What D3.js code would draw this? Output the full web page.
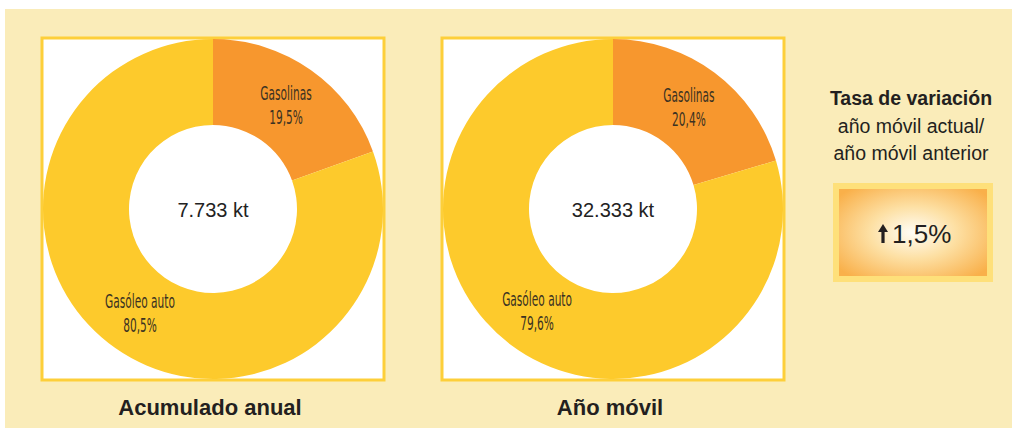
<!DOCTYPE html>
<html>
<head>
<meta charset="utf-8">
<script src="https://cdn.jsdelivr.net/npm/d3@7"></script>
<style>
  html, body { margin: 0; padding: 0; background: #fff; }
  svg { display: block; }
</style>
</head>
<body>
<div id="chart"></div>
<script>
// data
const categories = ["Gasolinas", "Gasóleo auto"];
const acumuladoValues = [19.5, 80.5];
const movilValues = [20.4, 79.6];
const panelTitles = ["Acumulado anual", "Año móvil"];
const totals = ["7.733 kt", "32.333 kt"];
const variationTitle = ["Tasa de variación", "año móvil actual/", "año móvil anterior"];
const variationValue = "1,5%";

const W = 1012, H = 428;
const colors = d3.scaleOrdinal().domain(categories).range(["#f7972e", "#fdca2c"]);
const fmt = v => d3.format(".1f")(v).replace(".", ",") + "%";

const svg = d3.select("#chart").append("svg")
    .attr("width", W).attr("height", H);

// beige panel
svg.append("rect")
    .attr("x", 5).attr("y", 9)
    .attr("width", W - 5).attr("height", H - 9)
    .attr("fill", "#faecb9");

const defs = svg.append("defs");
const grad = defs.append("radialGradient")
    .attr("id", "varGrad")
    .attr("cx", "50%").attr("cy", "50%").attr("r", "62%");
grad.append("stop").attr("offset", "0%").attr("stop-color", "#fffdf6");
grad.append("stop").attr("offset", "45%").attr("stop-color", "#fde0a4");
grad.append("stop").attr("offset", "100%").attr("stop-color", "#f9b04a");

const panels = [
    { cx: 213, cy: 209, values: acumuladoValues, title: panelTitles[0], total: totals[0] },
    { cx: 613, cy: 209, values: movilValues, title: panelTitles[1], total: totals[1] }
];

const outerR = 170, innerR = 84;
const pie = d3.pie().sort(null).value(d => d.value);
const arc = d3.arc().innerRadius(innerR).outerRadius(outerR);
const labelFont = "'DejaVu Sans Condensed', 'DejaVu Sans', sans-serif";

panels.forEach(p => {
    const g = svg.append("g");
    // white box with yellow border
    g.append("rect")
        .attr("x", p.cx - outerR - 1).attr("y", p.cy - outerR - 1)
        .attr("width", 2 * outerR + 2).attr("height", 2 * outerR + 2)
        .attr("fill", "#fff")
        .attr("stroke", "#fdcf3a").attr("stroke-width", 3);

    const data = categories.map((c, i) => ({ name: c, value: p.values[i] }));
    const arcs = pie(data);
    const dg = g.append("g").attr("transform", `translate(${p.cx},${p.cy})`);

    dg.selectAll("path").data(arcs).join("path")
        .attr("d", arc)
        .attr("fill", d => colors(d.data.name));

    const lab = dg.selectAll("g.lab").data(arcs).join("g")
        .attr("class", "lab")
        .attr("transform", d => { const [x, y] = arc.centroid(d); return `translate(${x},${y})`; });
    lab.append("text")
        .attr("y", -5)
        .attr("text-anchor", "middle")
        .attr("transform", "scale(0.62,1)")
        .style("font-family", labelFont)
        .style("font-size", "19px")
        .attr("fill", "#3b3222")
        .text(d => d.data.name);
    lab.append("text")
        .attr("y", 19)
        .attr("text-anchor", "middle")
        .attr("transform", "scale(0.62,1)")
        .style("font-family", labelFont)
        .style("font-size", "19px")
        .attr("fill", "#3b3222")
        .text(d => fmt(d.data.value));

    dg.append("text")
        .attr("y", 8)
        .attr("text-anchor", "middle")
        .style("font-family", "'Liberation Sans', Arial, sans-serif")
        .style("font-size", "20px")
        .attr("fill", "#222")
        .text(p.total);

    g.append("text")
        .attr("x", p.cx - 3).attr("y", 415)
        .attr("text-anchor", "middle")
        .style("font-family", "'Liberation Sans', Arial, sans-serif")
        .style("font-weight", "bold")
        .style("font-size", "22px")
        .attr("fill", "#231f20")
        .text(p.title);
});

// variation block
const vx = 911;
svg.append("g").selectAll("text").data(variationTitle).join("text")
    .attr("x", vx)
    .attr("y", (d, i) => 105 + i * 27.5)
    .attr("text-anchor", "middle")
    .style("font-family", "'Liberation Sans', Arial, sans-serif")
    .style("font-weight", (d, i) => i === 0 ? "bold" : "normal")
    .style("font-size", "19.5px")
    .attr("fill", "#231f20")
    .text(d => d);

svg.append("rect")
    .attr("x", 836).attr("y", 186)
    .attr("width", 154).attr("height", 93)
    .attr("fill", "url(#varGrad)")
    .attr("stroke", "#fee07a").attr("stroke-width", 6);

const vg = svg.append("g").attr("transform", "translate(883,243)");
vg.append("path")
    .attr("d", "M 0,-19 L 5,-11 L 1.6,-11 L 1.6,0 L -1.6,0 L -1.6,-11 L -5,-11 Z")
    .attr("fill", "#231f20");
vg.append("text")
    .attr("x", 9)
    .style("font-family", "'Liberation Sans', Arial, sans-serif")
    .style("font-size", "26px")
    .attr("fill", "#231f20")
    .text(variationValue);
</script>
</body>
</html>
